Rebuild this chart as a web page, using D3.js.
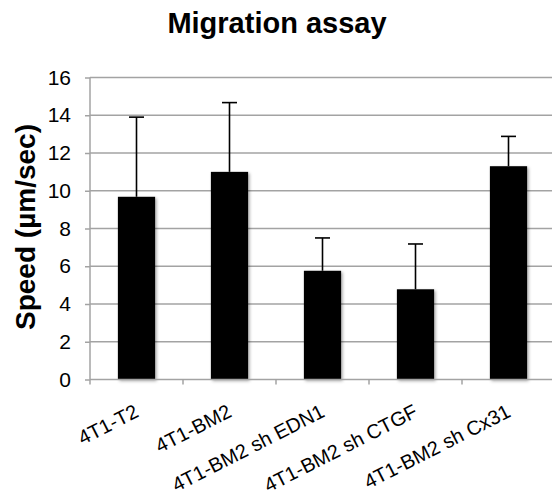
<!DOCTYPE html>
<html>
<head>
<meta charset="utf-8">
<script src="https://cdnjs.cloudflare.com/ajax/libs/d3/7.8.5/d3.min.js"></script>
<style>
  body { margin: 0; background: #fff; }
  svg { display: block; font-family: "Liberation Sans", Arial, sans-serif; }
</style>
</head>
<body>
<div id="chart"></div>
<script>
// data
const categories = ['4T1-T2', '4T1-BM2', '4T1-BM2 sh EDN1', '4T1-BM2 sh CTGF', '4T1-BM2 sh Cx31']
const speeds = [9.68, 11.0, 5.76, 4.78, 11.3]
const errors = [4.22, 3.67, 1.74, 2.4, 1.58]
const yTicks = [0, 2, 4, 6, 8, 10, 12, 14, 16]

const svgWidth = 552, svgHeight = 501
const margin = { top: 77.5, left: 90, right: -3, bottom: 121.5 }
const width = svgWidth - margin.left - margin.right
const height = svgHeight - margin.top - margin.bottom

const svg = d3.select('#chart').append('svg')
    .attr('width', svgWidth)
    .attr('height', svgHeight)

const defs = svg.append('defs')
defs.append('filter').attr('id', 'shadow')
    .attr('x', '-20%').attr('y', '-5%').attr('width', '150%').attr('height', '120%')
  .append('feDropShadow')
    .attr('dx', 1.5).attr('dy', 1.5).attr('stdDeviation', 1.5)
    .attr('flood-color', '#000').attr('flood-opacity', 0.35)

const g = svg.append('g')
    .attr('transform', 'translate(' + margin.left + ',' + margin.top + ')')

const x = d3.scaleBand().domain(categories).range([0, width]).paddingInner(0.6).paddingOuter(0.3)
const xBand = d3.scaleBand().domain(categories).range([0, width])
const y = d3.scaleLinear().domain([0, 16]).range([height, 0])

// gridlines
g.append('g').selectAll('line').data(yTicks.slice(1)).join('line')
    .attr('x1', 0).attr('x2', width)
    .attr('y1', d => y(d)).attr('y2', d => y(d))
    .attr('stroke', '#a3a3a3').attr('stroke-width', 1.5)

// y axis
const yAxis = g.append('g')
    .call(d3.axisLeft(y).tickValues(yTicks).tickSize(5).tickPadding(14))
yAxis.attr('font-size', 21).attr('font-family', '"Liberation Sans", Arial, sans-serif')
yAxis.select('.domain').attr('stroke', '#a3a3a3').attr('stroke-width', 1.5)
    .attr('d', 'M0,' + height + 'V0')
yAxis.selectAll('.tick line').attr('stroke', '#a3a3a3').attr('stroke-width', 1.5)
yAxis.selectAll('.tick text').style('font-size', '21px').attr('fill', '#000')

// bars
g.append('g').selectAll('rect').data(speeds).join('rect')
    .attr('x', (d, i) => x(categories[i]))
    .attr('y', d => y(d))
    .attr('width', x.bandwidth())
    .attr('height', d => height - y(d))
    .attr('fill', '#000')
    .attr('filter', 'url(#shadow)')

// error bars (upper only)
const eb = g.append('g').attr('stroke', '#000').attr('stroke-width', 1.6)
eb.selectAll('line.v').data(speeds).join('line').attr('class', 'v')
    .attr('x1', (d, i) => xBand(categories[i]) + xBand.bandwidth() / 2)
    .attr('x2', (d, i) => xBand(categories[i]) + xBand.bandwidth() / 2)
    .attr('y1', d => y(d))
    .attr('y2', (d, i) => y(d + errors[i]))
eb.selectAll('line.cap').data(speeds).join('line').attr('class', 'cap')
    .attr('x1', (d, i) => xBand(categories[i]) + xBand.bandwidth() / 2 - 7.5)
    .attr('x2', (d, i) => xBand(categories[i]) + xBand.bandwidth() / 2 + 7.5)
    .attr('y1', (d, i) => y(d + errors[i]))
    .attr('y2', (d, i) => y(d + errors[i]))

// x axis
const xAxisG = g.append('g').attr('transform', 'translate(0,' + height + ')')
xAxisG.append('line').attr('x1', 0).attr('x2', width)
    .attr('stroke', '#a3a3a3').attr('stroke-width', 1.5)
xAxisG.selectAll('line.tick').data(categories).join('line').attr('class', 'tick')
    .attr('x1', d => xBand(d)).attr('x2', d => xBand(d))
    .attr('y1', 0).attr('y2', 5)
    .attr('stroke', '#a3a3a3').attr('stroke-width', 1.5)
xAxisG.selectAll('text').data(categories).join('text')
    .attr('transform', d => 'translate(' + (xBand(d) + xBand.bandwidth() / 2 + 3.5) + ',36.5) rotate(-27)')
    .attr('text-anchor', 'end')
    .attr('font-size', 20)
    .attr('fill', '#000')
    .text(d => d)

// titles
svg.append('text')
    .attr('x', 277).attr('y', 33)
    .attr('text-anchor', 'middle')
    .attr('font-size', 29).attr('font-weight', 'bold')
    .text('Migration assay')

svg.append('text')
    .attr('transform', 'translate(35,' + 227 + ') rotate(-90)')
    .attr('text-anchor', 'middle')
    .attr('font-size', 28).attr('font-weight', 'bold')
    .text('Speed (µm/sec)')
</script>
</body>
</html>
